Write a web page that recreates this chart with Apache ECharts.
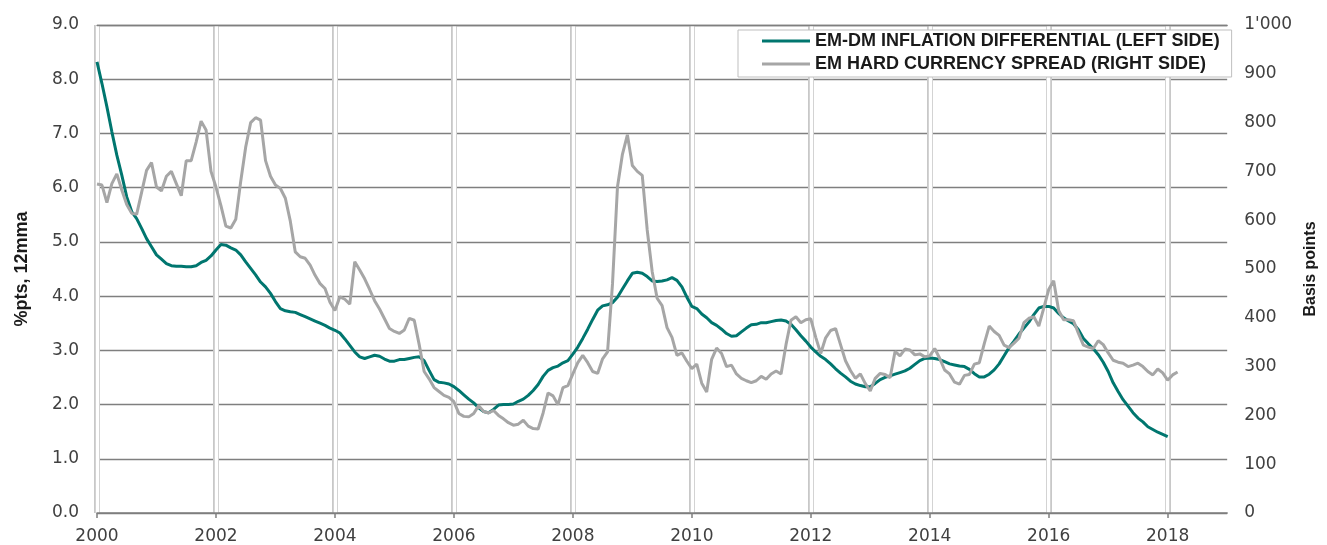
<!DOCTYPE html>
<html>
<head>
<meta charset="utf-8">
<script src="https://cdn.jsdelivr.net/npm/echarts@6/dist/echarts.min.js"></script>
<style>
  html, body { margin: 0; padding: 0; background: #fff; }
  #chart { width: 1327px; height: 545px; }
</style>
</head>
<body>
<div id="chart"></div>
<script>
// monthly categories, Jan 2000 .. Jan 2019
const months = [];
for (let y = 2000; y <= 2019; y++) {
  for (let m = 1; m <= 12; m++) {
    if (y === 2019 && m > 1) break;
    months.push(y + '-' + (m < 10 ? '0' + m : m));
  }
}

// EM-DM inflation differential, %pts 12mma (left axis)
const inflationDiff = [
  8.32, 7.92, 7.49, 7.03, 6.60, 6.23, 5.83, 5.56, 5.43, 5.25, 5.06, 4.91,
  4.76, 4.68, 4.60, 4.56, 4.55, 4.55, 4.54, 4.54, 4.56, 4.62, 4.66, 4.74,
  4.85, 4.95, 4.94, 4.89, 4.85, 4.76, 4.63, 4.51, 4.39, 4.26, 4.17, 4.05,
  3.90, 3.77, 3.73, 3.71, 3.70, 3.66, 3.62, 3.58, 3.54, 3.50, 3.46, 3.41,
  3.37, 3.32, 3.21, 3.09, 2.97, 2.88, 2.85, 2.88, 2.91, 2.89, 2.84, 2.80,
  2.80, 2.83, 2.83, 2.85, 2.87, 2.88, 2.81, 2.63, 2.46, 2.41, 2.40, 2.38,
  2.33, 2.26, 2.18, 2.10, 2.03, 1.94, 1.87, 1.85, 1.91, 1.99, 2.00, 2.00,
  2.01, 2.06, 2.10, 2.17, 2.26, 2.37, 2.52, 2.63, 2.68, 2.71, 2.77, 2.81,
  2.93, 3.06, 3.22, 3.39, 3.57, 3.74, 3.82, 3.84, 3.88, 3.98, 4.13, 4.28,
  4.42, 4.44, 4.42, 4.36, 4.28, 4.27, 4.28, 4.30, 4.34, 4.29, 4.17, 3.98,
  3.81, 3.77, 3.67, 3.60, 3.51, 3.46, 3.39, 3.31, 3.26, 3.27, 3.34, 3.41,
  3.47, 3.48, 3.51, 3.51, 3.53, 3.55, 3.56, 3.54, 3.48, 3.38, 3.27, 3.17,
  3.06, 2.97, 2.89, 2.83, 2.75, 2.66, 2.58, 2.51, 2.43, 2.38, 2.35, 2.33,
  2.33, 2.39, 2.46, 2.50, 2.53, 2.56, 2.59, 2.62, 2.67, 2.74, 2.81, 2.85,
  2.86, 2.85, 2.83, 2.79, 2.75, 2.73, 2.71, 2.70, 2.65, 2.57, 2.51, 2.51,
  2.56, 2.64, 2.75, 2.90, 3.05, 3.17, 3.30, 3.41, 3.52, 3.66, 3.78, 3.81,
  3.81, 3.78, 3.68, 3.60, 3.54, 3.49, 3.38, 3.22, 3.12, 3.03, 2.92, 2.78,
  2.61, 2.40, 2.24, 2.09, 1.97, 1.85, 1.75, 1.68, 1.59, 1.54, 1.49, 1.45,
  1.41
];

// EM hard currency spread, basis points (right axis)
const hardCurrencySpread = [
  674, 672, 636, 675, 695, 662, 632, 614, 612, 657, 702, 718,
  668, 660, 690, 700, 675, 650, 722, 722, 760, 803, 785, 700,
  668, 630, 588, 584, 602, 680, 750, 800, 810, 805, 722, 690,
  672, 665, 645, 598, 535, 525, 522, 508, 487, 470, 460, 432,
  415, 443, 438, 428, 515, 498, 480, 458, 435, 418, 398, 378,
  372, 368, 375, 399, 395, 345, 290, 275, 257, 249, 241, 237,
  228, 204, 198, 197, 204, 220, 208, 205, 210, 200, 193, 185,
  180, 182, 190, 178, 173, 172, 205, 246, 240, 222, 257, 261,
  285, 308, 323, 308, 290, 286, 316, 330, 470, 668, 735, 775,
  712, 700, 692, 580, 495, 440, 425, 380, 360, 323, 328, 311,
  296, 305, 266, 248, 315, 338, 327, 300, 303, 285, 276, 271,
  267, 271, 280, 274, 285, 291, 285, 345, 395, 402, 390, 396,
  398, 360, 327, 359, 374, 378, 345, 312, 292, 276, 285, 265,
  250, 276, 286, 284, 277, 331, 322, 336, 334, 324, 326, 320,
  322, 337, 317, 293, 285, 268, 264, 282, 284, 305, 308, 347,
  383, 372, 364, 344, 339, 348, 358, 390, 399, 402, 383, 420,
  458, 476, 415, 396, 396, 394, 368, 344, 340, 337, 353, 345,
  328, 313, 309, 307, 300, 303, 307, 300, 290, 283, 295, 287,
  272, 283, 289
];

const seriesNames = ['EM-DM INFLATION DIFFERENTIAL (LEFT SIDE)', 'EM HARD CURRENCY SPREAD (RIGHT SIDE)'];

const everyTwoYears = function (index) { return index % 24 === 0; };
const tickFont = { fontFamily: 'DejaVu Sans', fontSize: 17, color: '#404040' };
const nameFont = { fontFamily: 'Liberation Sans', fontWeight: 'bold', color: '#1a1a1a' };

const chart = echarts.init(document.getElementById('chart'));
chart.setOption({
  animation: false,
  backgroundColor: '#fff',
  grid: { left: 97, right: 95, top: 25, bottom: 32 },
  legend: {
    orient: 'vertical',
    left: 738,
    top: 30,
    padding: [2, 12, 4, 24],
    itemWidth: 48,
    itemHeight: 3,
    itemGap: 5,
    backgroundColor: '#fff',
    borderColor: '#bfbfbf',
    borderWidth: 1,
    textStyle: { fontFamily: 'Liberation Sans', fontWeight: 'bold', fontSize: 18, color: '#1a1a1a' },
    data: [
      { name: seriesNames[0], icon: 'rect' },
      { name: seriesNames[1], icon: 'rect' }
    ]
  },
  xAxis: [
    {
      // labels + outer grey of the double vertical gridlines
      type: 'category', data: months, boundaryGap: false, z: 1,
      axisLine: { show: false },
      axisTick: { show: false },
      axisLabel: Object.assign({ interval: everyTwoYears, margin: 15, formatter: v => v.slice(0, 4) }, tickFont),
      splitLine: { show: true, interval: everyTwoYears, lineStyle: { color: '#c8c8c8', width: 6 } }
    },
    {
      // white centre of the double vertical gridlines
      type: 'category', data: months, boundaryGap: false, position: 'top', z: 2,
      axisLine: { show: false }, axisTick: { show: false }, axisLabel: { show: false },
      splitLine: { show: true, interval: everyTwoYears, lineStyle: { color: '#fff', width: 3.4 } }
    },
    {
      // bottom axis line and ticks
      type: 'category', data: months, boundaryGap: false, position: 'bottom', z: 3,
      axisLine: { show: true, lineStyle: { color: '#7f7f7f', width: 1.5 } },
      axisTick: { show: true, interval: everyTwoYears, length: 5, lineStyle: { color: '#7f7f7f', width: 1.5 } },
      axisLabel: { show: false }, splitLine: { show: false }
    },
    {
      // top border
      type: 'category', data: months, boundaryGap: false, position: 'top', z: 3,
      axisLine: { show: true, lineStyle: { color: '#7f7f7f', width: 1.3 } },
      axisTick: { show: false }, axisLabel: { show: false }, splitLine: { show: false }
    }
  ],
  yAxis: [
    {
      type: 'value', min: 0, max: 9, interval: 1, z: 0,
      name: '%pts, 12mma', nameLocation: 'middle', nameRotate: 90, nameGap: 66,
      nameTextStyle: Object.assign({ fontSize: 18 }, nameFont),
      axisLine: { show: false }, axisTick: { show: false },
      axisLabel: Object.assign({ margin: 18, formatter: v => v.toFixed(1) }, tickFont),
      splitLine: { show: true, lineStyle: { color: '#7f7f7f', width: 1.3 } }
    },
    {
      type: 'value', min: 0, max: 1000, interval: 100, position: 'right',
      name: 'Basis points', nameLocation: 'middle', nameRotate: 90, nameGap: 72,
      nameTextStyle: Object.assign({ fontSize: 16 }, nameFont),
      axisLine: { show: false }, axisTick: { show: false },
      axisLabel: Object.assign({ margin: 17, formatter: v => (v === 1000 ? "1'000" : String(v)) }, tickFont),
      splitLine: { show: false }
    }
  ],
  series: [
    {
      name: seriesNames[0], type: 'line', xAxisIndex: 0, yAxisIndex: 0, z: 5,
      data: inflationDiff, showSymbol: false, symbol: 'none',
      lineStyle: { color: '#00766f', width: 3 }, itemStyle: { color: '#00766f' }
    },
    {
      name: seriesNames[1], type: 'line', xAxisIndex: 0, yAxisIndex: 1, z: 6,
      data: hardCurrencySpread, showSymbol: false, symbol: 'none',
      lineStyle: { color: '#a6a6a6', width: 3 }, itemStyle: { color: '#a6a6a6' }
    }
  ]
});
</script>
</body>
</html>
